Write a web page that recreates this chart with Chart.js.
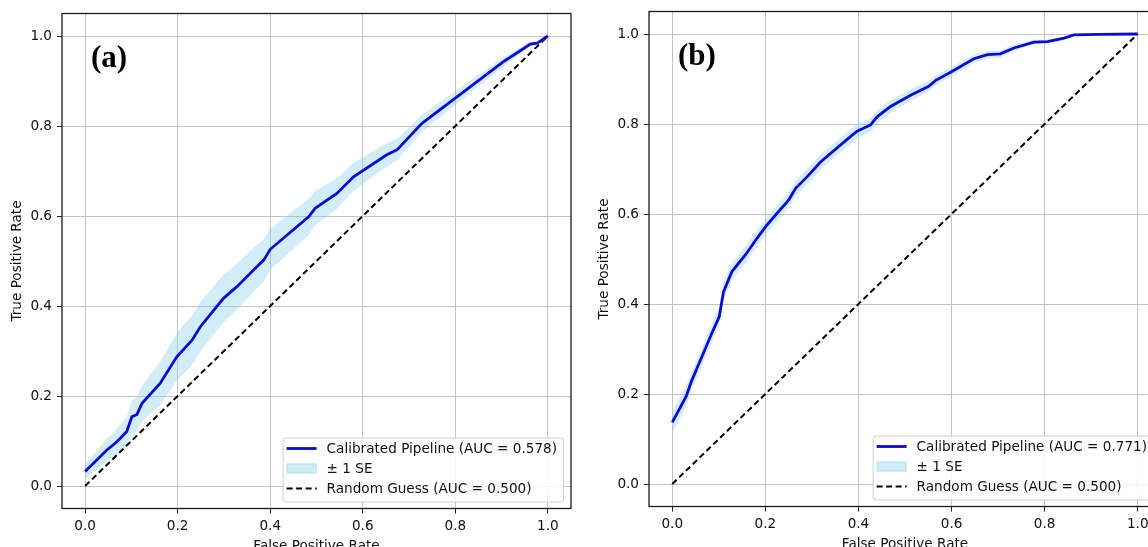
<!DOCTYPE html>
<html>
<head>
<meta charset="utf-8">
<script src="https://cdn.jsdelivr.net/npm/chart.js@4.4.1/dist/chart.umd.min.js"></script>
<style>
  html, body { margin: 0; padding: 0; width: 1148px; height: 547px; overflow: hidden; background: #fff; }
  canvas { position: absolute; }
  #chart-a { left: 0; top: 0; }
  #chart-b { left: 587px; top: -2px; }
</style>
</head>
<body>
<canvas id="chart-a" width="574" height="560"></canvas>
<canvas id="chart-b" width="577" height="560"></canvas>
<script>
// Ticks dos dois eixos
const xTicks = [0, 0.2, 0.4, 0.6, 0.8, 1.0]
const yTicks = [0, 0.2, 0.4, 0.6, 0.8, 1.0]

// Linha de referencia (chute aleatorio)
const guessFpr = [0, 1]
const guessTpr = [0, 1]

// Painel (a) - AUC 0.578
const fprA = [0.000, 0.047, 0.065, 0.076, 0.090, 0.101, 0.112, 0.123, 0.162, 0.198, 0.231, 0.249, 0.299, 0.328, 0.364, 0.386, 0.400,
  0.483, 0.497, 0.544, 0.580, 0.652, 0.674, 0.728, 0.800, 0.904, 0.937, 0.962, 0.977, 1.000]
const tprA = [0.032, 0.080, 0.095, 0.106, 0.121, 0.154, 0.159, 0.184, 0.228, 0.287, 0.324, 0.354, 0.417, 0.443, 0.480, 0.502, 0.526,
  0.598, 0.617, 0.650, 0.687, 0.736, 0.747, 0.806, 0.862, 0.943, 0.965, 0.982, 0.984, 1.000]
const seA = [0.017, 0.025, 0.028, 0.030, 0.033, 0.036, 0.038, 0.040, 0.048, 0.053, 0.055, 0.055, 0.053, 0.051, 0.049, 0.047, 0.046,
  0.040, 0.038, 0.034, 0.031, 0.026, 0.024, 0.019, 0.015, 0.010, 0.008, 0.005, 0.004, 0.000]

// Painel (b) - AUC 0.771
const fprB = [0.000, 0.030, 0.041, 0.067, 0.085, 0.101, 0.110, 0.128, 0.142, 0.157, 0.182, 0.203, 0.228, 0.250, 0.265, 0.290, 0.318,
  0.361, 0.397, 0.426, 0.440, 0.469, 0.512, 0.551, 0.566, 0.598, 0.648, 0.677, 0.705, 0.734, 0.777, 0.806, 0.842, 0.863, 0.920, 1.000]
const tprB = [0.137, 0.195, 0.228, 0.291, 0.335, 0.372, 0.427, 0.472, 0.490, 0.509, 0.546, 0.575, 0.605, 0.631, 0.657, 0.683, 0.715,
  0.753, 0.784, 0.798, 0.816, 0.839, 0.864, 0.884, 0.897, 0.915, 0.945, 0.954, 0.956, 0.969, 0.982, 0.983, 0.991, 0.998, 0.999, 1.000]
const seB = [0.025, 0.022, 0.021, 0.020, 0.020, 0.020, 0.020, 0.019, 0.019, 0.019, 0.018, 0.018, 0.018, 0.018, 0.017, 0.017, 0.017,
  0.016, 0.016, 0.015, 0.015, 0.014, 0.013, 0.012, 0.011, 0.010, 0.009, 0.008, 0.008, 0.007, 0.005, 0.004, 0.003, 0.001, 0.000, 0.000]

const corLinha = '#0b0bd0'
const corFaixa = 'rgba(135, 206, 235, 0.37)'

Chart.defaults.font.family = '"DejaVu Sans"'
Chart.defaults.font.size = 13.6
Chart.defaults.color = '#111'

function pontos(xs, ys) {
  return xs.map((x, i) => ({ x: x, y: ys[i] }))
}

// Moldura, letra do painel e legenda dentro da area do grafico
const decoracao = {
  id: 'decoracao',
  afterDraw(chart, args, opts) {
    const ctx = chart.ctx
    const area = chart.chartArea
    ctx.save()

    ctx.strokeStyle = '#1a1a1a'
    ctx.lineWidth = 1.3
    ctx.strokeRect(area.left, area.top, area.right - area.left, area.bottom - area.top)

    ctx.font = 'bold 31px "Liberation Serif"'
    ctx.fillStyle = '#000'
    ctx.textAlign = 'left'
    ctx.textBaseline = 'alphabetic'
    ctx.fillText(opts.letra, area.left + 29, area.top + 53)

    ctx.font = '13.6px "DejaVu Sans"'
    const largTexto = Math.max(...opts.itens.map(t => ctx.measureText(t).width))
    const w = 4 + 30 + 10 + largTexto + 6
    const h = 64
    const x0 = area.right - 8 - w
    const y0 = area.bottom - 7 - h

    ctx.beginPath()
    ctx.roundRect(x0 + 0.5, y0 + 0.5, w, h, 3)
    ctx.fillStyle = 'rgba(255, 255, 255, 0.85)'
    ctx.fill()
    ctx.strokeStyle = '#cfcfcf'
    ctx.lineWidth = 1
    ctx.stroke()

    const hx = x0 + 4
    opts.itens.forEach((texto, i) => {
      const y = y0 + 11 + i * 20
      if (i == 0) {
        ctx.strokeStyle = corLinha
        ctx.lineWidth = 2.8
        ctx.setLineDash([])
        ctx.beginPath(); ctx.moveTo(hx, y); ctx.lineTo(hx + 30, y); ctx.stroke()
      } else if (i == 1) {
        ctx.fillStyle = corFaixa
        ctx.fillRect(hx, y - 5, 30, 10)
        ctx.strokeStyle = 'rgba(135, 206, 235, 0.45)'
        ctx.lineWidth = 1
        ctx.strokeRect(hx + 0.5, y - 4.5, 29, 9)
      } else {
        ctx.strokeStyle = '#000'
        ctx.lineWidth = 2
        ctx.setLineDash([6, 3.5])
        ctx.beginPath(); ctx.moveTo(hx, y); ctx.lineTo(hx + 30, y); ctx.stroke()
        ctx.setLineDash([])
      }
      ctx.fillStyle = '#111'
      ctx.textBaseline = 'middle'
      ctx.fillText(texto, hx + 40, y + 0.5)
    })

    ctx.restore()
  }
}

function eixo(ticks, titulo, vertical) {
  return {
    type: 'linear',
    min: -0.05,
    max: 1.05,
    afterBuildTicks: s => { s.ticks = ticks.map(v => ({ value: v })) },
    afterFit: s => { if (vertical) s.width = 62; else s.height = 51.5 },
    grid: { color: '#c4c4c4', lineWidth: 1, tickLength: 5, tickColor: '#222' },
    border: { display: false },
    ticks: { padding: vertical ? 5 : 5, maxRotation: 0, autoSkip: false, callback: v => v.toFixed(1) },
    title: {
      display: true,
      text: titulo,
      padding: vertical ? { top: 9.5, bottom: 0 } : { top: 0, bottom: 5.5 }
    }
  }
}

function criarGrafico(canvasId, fpr, tpr, se, letra, auc) {
  const superior = tpr.map((v, i) => v + se[i])
  const inferior = tpr.map((v, i) => v - se[i])

  return new Chart(document.getElementById(canvasId), {
    type: 'line',
    data: {
      datasets: [
        {
          label: `Calibrated Pipeline (AUC = ${auc})`,
          data: pontos(fpr, tpr),
          borderColor: corLinha,
          borderWidth: 2.8,
          pointRadius: 0,
          tension: 0,
          fill: false
        },
        {
          label: 'Random Guess (AUC = 0.500)',
          data: pontos(guessFpr, guessTpr),
          borderColor: '#000',
          borderWidth: 2,
          borderDash: [6, 3.5],
          pointRadius: 0,
          fill: false
        },
        {
          label: 'upper',
          data: pontos(fpr, superior),
          borderColor: 'transparent',
          borderWidth: 0,
          pointRadius: 0,
          fill: false
        },
        {
          label: '± 1 SE',
          data: pontos(fpr, inferior),
          borderColor: 'transparent',
          borderWidth: 0,
          pointRadius: 0,
          backgroundColor: corFaixa,
          fill: '-1'
        }
      ]
    },
    options: {
      responsive: false,
      animation: false,
      devicePixelRatio: 1,
      layout: { padding: { top: 13.5, right: 3, left: 0, bottom: 0 } },
      scales: {
        x: eixo(xTicks, 'False Positive Rate', false),
        y: eixo(yTicks, 'True Positive Rate', true)
      },
      plugins: {
        legend: { display: false },
        tooltip: { enabled: false },
        decoracao: {
          letra: letra,
          itens: [`Calibrated Pipeline (AUC = ${auc})`, '± 1 SE', 'Random Guess (AUC = 0.500)']
        }
      }
    },
    plugins: [decoracao]
  })
}

criarGrafico('chart-a', fprA, tprA, seA, '(a)', '0.578')
criarGrafico('chart-b', fprB, tprB, seB, '(b)', '0.771')
</script>
</body>
</html>
